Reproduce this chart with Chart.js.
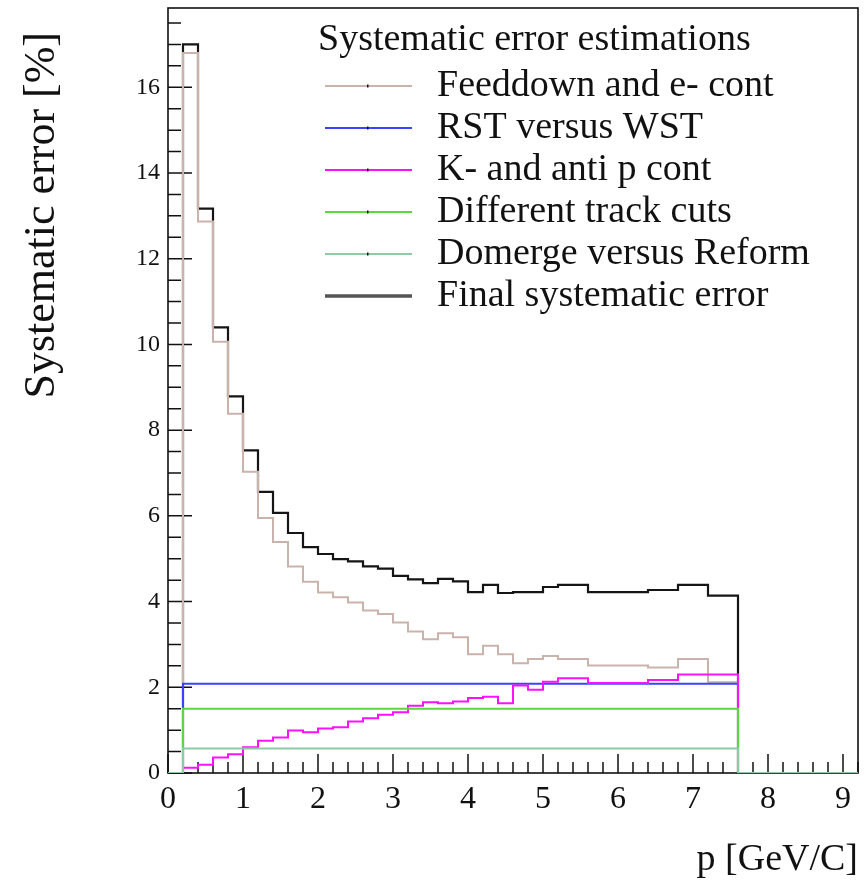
<!DOCTYPE html>
<html>
<head>
<meta charset="utf-8">
<title>Systematic error estimations</title>
<script src="https://cdn.jsdelivr.net/npm/chart.js@4.4.1/dist/chart.umd.min.js"></script>
<style>
    html, body { margin: 0; padding: 0; background: #fff; }
    #chart-syst { display: block; }
</style>
</head>
<body>
<canvas id="chart-syst" width="868" height="890"></canvas>
<script>
// histogram binning: 46 bins of 0.2 GeV/c from 0 to 9.2, filled from 0.2 to 7.6
const X_MIN = 0;
const X_MAX = 9.2;
const Y_MAX = 17.85;
const BIN_LOW = 0.2;
const BIN_WIDTH = 0.2;

// systematic error per bin [%], bins 0.2-0.4 ... 7.4-7.6
const feeddown = [16.8, 12.87, 10.06, 8.38, 7.03, 5.95, 5.39, 4.82, 4.46, 4.21,
    4.10, 3.98, 3.79, 3.71, 3.51, 3.30, 3.12, 3.26, 3.17, 2.77,
    2.97, 2.77, 2.56, 2.66, 2.73, 2.66, 2.66, 2.51, 2.51, 2.51,
    2.51, 2.46, 2.46, 2.66, 2.66, 2.12, 2.12];
const rstWst = [2.08, 2.08, 2.08, 2.08, 2.08, 2.08, 2.08, 2.08, 2.08, 2.08,
    2.08, 2.08, 2.08, 2.08, 2.08, 2.08, 2.08, 2.08, 2.08, 2.08,
    2.08, 2.08, 2.08, 2.08, 2.08, 2.08, 2.08, 2.08, 2.08, 2.08,
    2.08, 2.08, 2.08, 2.08, 2.08, 2.08, 2.08];
const kaonPbar = [0.12, 0.19, 0.36, 0.44, 0.60, 0.75, 0.83, 0.99, 0.95, 1.04,
    1.07, 1.20, 1.28, 1.36, 1.42, 1.57, 1.65, 1.63, 1.67, 1.75,
    1.78, 1.63, 2.04, 1.94, 2.13, 2.21, 2.21, 2.10, 2.10, 2.10,
    2.10, 2.17, 2.17, 2.30, 2.30, 2.30, 2.30];
const trackCuts = [1.50, 1.50, 1.50, 1.50, 1.50, 1.50, 1.50, 1.50, 1.50, 1.50,
    1.50, 1.50, 1.50, 1.50, 1.50, 1.50, 1.50, 1.50, 1.50, 1.50,
    1.50, 1.50, 1.50, 1.50, 1.50, 1.50, 1.50, 1.50, 1.50, 1.50,
    1.50, 1.50, 1.50, 1.50, 1.50, 1.50, 1.50];
const domergeReform = [0.57, 0.57, 0.57, 0.57, 0.57, 0.57, 0.57, 0.57, 0.57, 0.57,
    0.57, 0.57, 0.57, 0.57, 0.57, 0.57, 0.57, 0.57, 0.57, 0.57,
    0.57, 0.57, 0.57, 0.57, 0.57, 0.57, 0.57, 0.57, 0.57, 0.57,
    0.57, 0.57, 0.57, 0.57, 0.57, 0.57, 0.57];
const finalSyst = [17.0, 13.17, 10.40, 8.79, 7.53, 6.56, 6.07, 5.60, 5.27, 5.11,
    4.99, 4.94, 4.82, 4.77, 4.60, 4.52, 4.43, 4.53, 4.47, 4.22,
    4.39, 4.20, 4.22, 4.22, 4.34, 4.39, 4.39, 4.22, 4.22, 4.22,
    4.22, 4.27, 4.27, 4.39, 4.39, 4.14, 4.14];

const seriesLabels = ["Feeddown and e- cont", "RST versus WST", "K- and anti p cont",
    "Different track cuts", "Domerge versus Reform", "Final systematic error"];
const legendTitle = "Systematic error estimations";
const xTitle = "p [GeV/C]";
const yTitle = "Systematic error [%]";

const SERIF = '"Liberation Serif", "DejaVu Serif", serif';

// step points for a ROOT-like histogram outline (empty bins drawn at 0)
function histPoints(values) {
    const pts = [{ x: X_MIN, y: 0 }];
    values.forEach((v, i) => {
        pts.push({ x: +(BIN_LOW + i * BIN_WIDTH).toFixed(2), y: v });
    });
    pts.push({ x: +(BIN_LOW + values.length * BIN_WIDTH).toFixed(2), y: 0 });
    pts.push({ x: X_MAX, y: 0 });
    return pts;
}

function histDataset(label, values, color, width, order) {
    return {
        label: label,
        data: histPoints(values),
        borderColor: color,
        borderWidth: width,
        stepped: "before",
        pointRadius: 0,
        fill: false,
        order: order,
    };
}

// frame, inward ticks, tick labels and axis titles (under the histograms)
const rootAxes = {
    id: "rootAxes",
    beforeDatasetsDraw(chart) {
        const { ctx, chartArea: a, scales } = chart;
        const xs = scales.x, ys = scales.y;
        ctx.save();
        ctx.strokeStyle = "#111";
        ctx.fillStyle = "#111";
        ctx.lineWidth = 1.6;
        ctx.strokeRect(a.left, a.top, a.right - a.left, a.bottom - a.top);

        ctx.lineWidth = 1.5;
        ctx.beginPath();
        for (let k = 0; k * 0.5 <= Y_MAX; k++) {
            const y = ys.getPixelForValue(k * 0.5);
            const len = k % 4 === 0 ? 24 : 13;
            ctx.moveTo(a.left, y);
            ctx.lineTo(a.left + len, y);
        }
        for (let k = 0; k <= 46; k++) {
            const x = xs.getPixelForValue(k * 0.2);
            const len = k % 5 === 0 ? 19 : 11;
            ctx.moveTo(x, a.bottom);
            ctx.lineTo(x, a.bottom - len);
        }
        ctx.stroke();

        ctx.font = "24px " + SERIF;
        ctx.textAlign = "right";
        ctx.textBaseline = "middle";
        for (let v = 0; v <= 16; v += 2) {
            ctx.fillText(String(v), a.left - 8, ys.getPixelForValue(v));
        }
        ctx.font = "32px " + SERIF;
        ctx.textAlign = "center";
        ctx.textBaseline = "top";
        for (let v = 0; v <= 9; v++) {
            ctx.fillText(String(v), xs.getPixelForValue(v), a.bottom + 11);
        }

        ctx.font = "38px " + SERIF;
        ctx.textAlign = "right";
        ctx.textBaseline = "middle";
        ctx.fillText(xTitle, a.right, 860);

        ctx.save();
        ctx.translate(42, 32);
        ctx.rotate(-Math.PI / 2);
        ctx.font = "44px " + SERIF;
        ctx.textAlign = "right";
        ctx.textBaseline = "middle";
        ctx.fillText(yTitle, 0, 0);
        ctx.restore();
        ctx.restore();
    },
};

// legend in the upper right, no border
const rootLegend = {
    id: "rootLegend",
    afterDraw(chart) {
        const ctx = chart.ctx;
        ctx.save();
        ctx.fillStyle = "#111";
        ctx.font = "38px " + SERIF;
        ctx.textAlign = "left";
        ctx.textBaseline = "middle";
        ctx.fillText(legendTitle, 318, 40);
        chart.data.datasets.forEach((ds, i) => {
            const y = 86 + i * 42;
            const last = i === chart.data.datasets.length - 1;
            ctx.strokeStyle = last ? "#555" : ds.borderColor;
            ctx.lineWidth = last ? 3.5 : 2.2;
            ctx.beginPath();
            ctx.moveTo(325, y);
            ctx.lineTo(412, y);
            ctx.stroke();
            if (!last) {
                ctx.fillStyle = "#111";
                ctx.fillRect(367, y - 1.5, 1.5, 3);
            }
            ctx.fillStyle = "#111";
            ctx.fillText(ds.label, 437, y);
        });
        ctx.restore();
    },
};

const chartSyst = document.getElementById("chart-syst");
new Chart(chartSyst, {
    type: "line",
    data: {
        datasets: [
            histDataset(seriesLabels[0], feeddown, "#c9b3aa", 2, 4),
            histDataset(seriesLabels[1], rstWst, "#3a44ff", 2, 3),
            histDataset(seriesLabels[2], kaonPbar, "#ff10ff", 2, 2),
            histDataset(seriesLabels[3], trackCuts, "#5cd83e", 2, 1),
            histDataset(seriesLabels[4], domergeReform, "#8ecba5", 2, 0),
            histDataset(seriesLabels[5], finalSyst, "#151515", 2.2, 5),
        ],
    },
    options: {
        responsive: false,
        animation: false,
        devicePixelRatio: 1,
        layout: { padding: { left: 168, top: 8, right: 10, bottom: 117 } },
        plugins: {
            legend: { display: false },
            tooltip: { enabled: false },
        },
        scales: {
            x: { type: "linear", min: X_MIN, max: X_MAX, display: false },
            y: { type: "linear", min: 0, max: Y_MAX, display: false },
        },
    },
    plugins: [rootAxes, rootLegend],
});
</script>
</body>
</html>
